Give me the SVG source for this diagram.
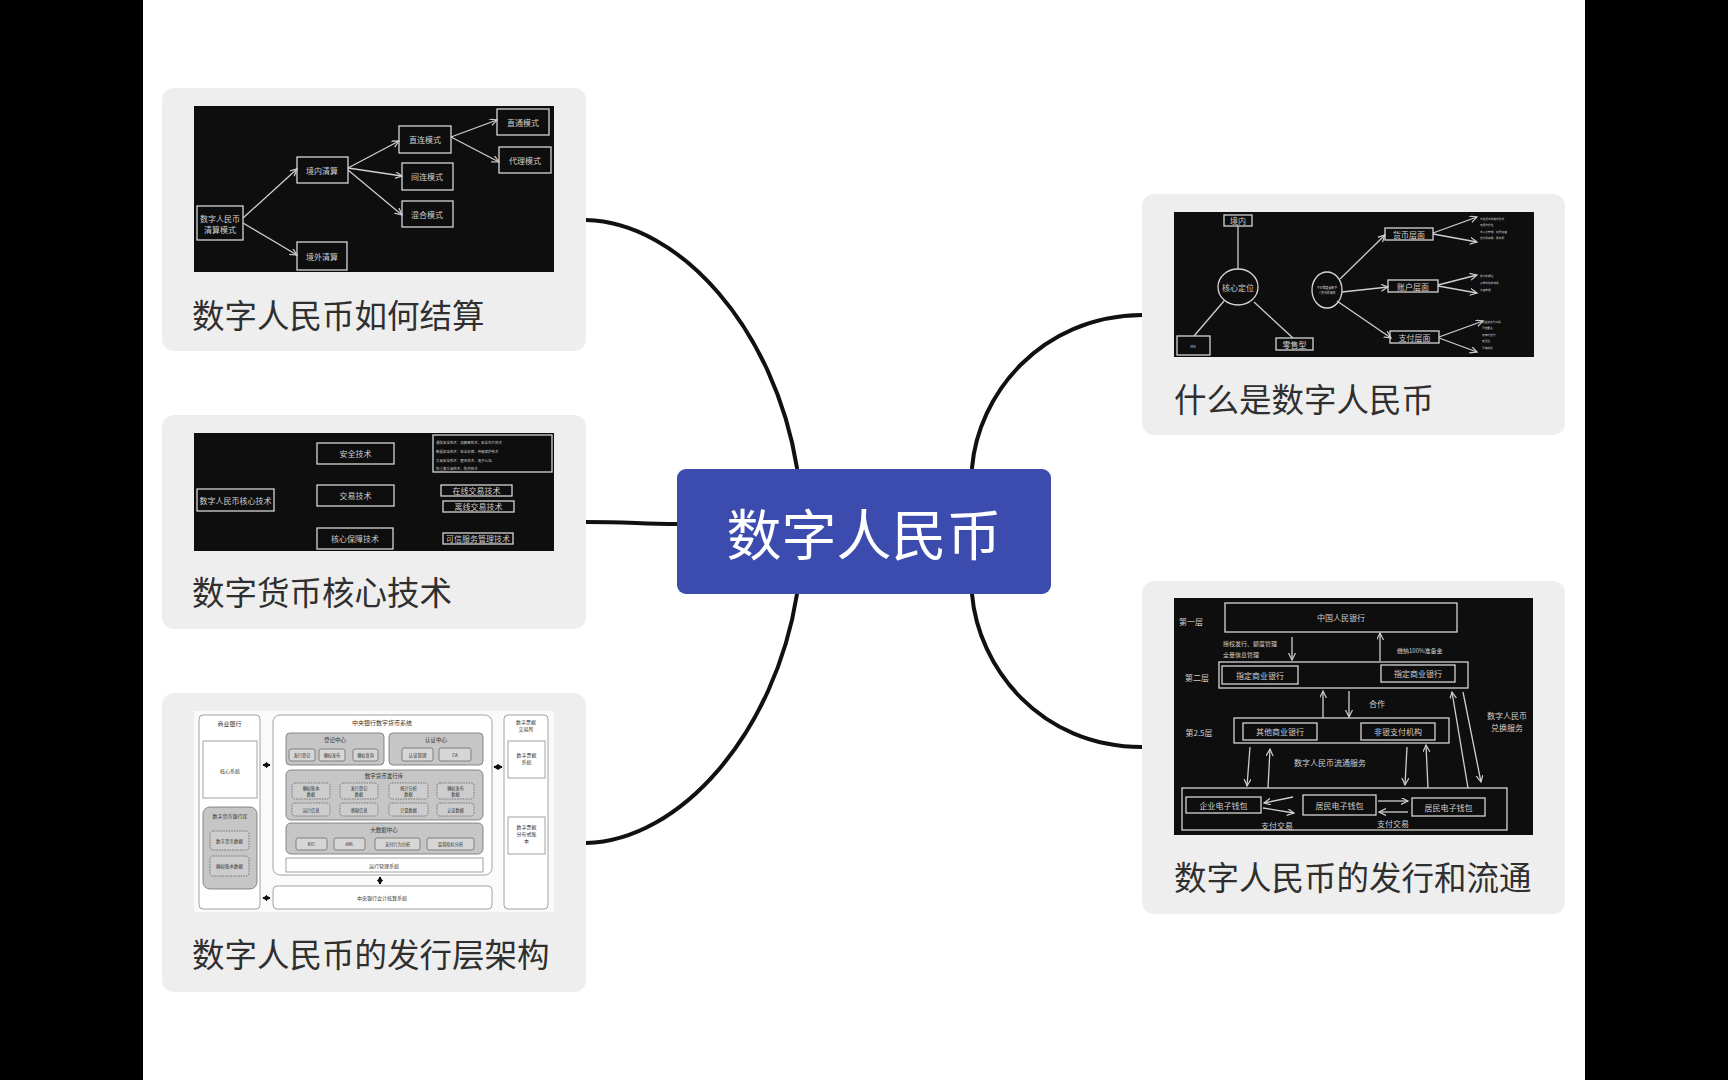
<svg xmlns="http://www.w3.org/2000/svg" width="1728" height="1080" viewBox="0 0 1728 1080">
<defs>
<style>
.f{font-family:"Noto Sans CJK SC","Noto Sans",sans-serif}
.card{fill:#eeeeee}
.lbl{font-family:"Noto Sans CJK SC","Noto Sans",sans-serif;font-size:32.5px;fill:#2f2f2f;dominant-baseline:central}
.conn{fill:none;stroke:#111;stroke-width:4;stroke-linecap:round}
.skbg{fill:#0e0e0e}
.sk{fill:none;stroke:#d6d6d6;stroke-width:1.3}
.skt{font-family:"Noto Sans CJK SC","Noto Sans",sans-serif;font-size:8px;fill:#cfcfcf;text-anchor:middle;dominant-baseline:central}
.skl{font-family:"Noto Sans CJK SC","Noto Sans",sans-serif;font-size:6px;fill:#cfcfcf;dominant-baseline:central}
.ska{fill:none;stroke:#cfcfcf;stroke-width:1.3;marker-end:url(#skArrow)}
.skn{fill:none;stroke:#cfcfcf;stroke-width:1.3}
.wb{fill:#fff;stroke:#8a8a8a;stroke-width:0.8}
.gb{fill:#c6c6c6;stroke:#707070;stroke-width:0.8}
.sb{fill:#d6d6d6;stroke:#606060;stroke-width:0.7}
.db{fill:#cdcdcd;stroke:#5a5a5a;stroke-width:0.7;stroke-dasharray:1.6 1}
.it{font-family:"Noto Sans CJK SC","Noto Sans",sans-serif;font-size:10px;fill:#333;text-anchor:middle;dominant-baseline:central}
.dar{stroke:#111;stroke-width:2;marker-start:url(#dblArrow);marker-end:url(#dblArrow)}
</style>
<marker id="skArrow" markerUnits="userSpaceOnUse" markerWidth="10" markerHeight="10" refX="7" refY="3.5" orient="auto">
<path d="M0,0 L7,3.5 L0,7" fill="none" stroke="#cfcfcf" stroke-width="1.2"/>
</marker>
<marker id="dblArrow" markerUnits="userSpaceOnUse" markerWidth="6" markerHeight="6" refX="4" refY="3" orient="auto-start-reverse">
<path d="M0,0 L4.5,3 L0,6 Z" fill="#111"/>
</marker>
</defs>

<rect x="0" y="0" width="1728" height="1080" fill="#ffffff"/>
<rect x="0" y="0" width="143" height="1080" fill="#000"/>
<rect x="1585" y="0" width="143" height="1080" fill="#000"/>

<g id="connectors">
<path class="conn" d="M586,220 C680,222 775,330 797,468"/>
<path class="conn" d="M586,522 C630,522 640,524 677,524"/>
<path class="conn" d="M586,843 C680,841 775,733 797,594"/>
<path class="conn" d="M972,468 C978,395 1040,316 1142,315"/>
<path class="conn" d="M972,594 C978,667 1040,747 1142,747"/>
</g>

<g id="center">
<rect x="677" y="469" width="374" height="125" rx="9" fill="#3c4bae"/>
<text x="864" y="531" class="f" font-size="55" fill="#fff" text-anchor="middle" dominant-baseline="central">数字人民币</text>
</g>

<g id="node-settlement">
<rect class="card" x="162" y="88" width="424" height="263" rx="12"/>
<rect class="skbg" x="194" y="106" width="360" height="166"/>
<rect class="sk" x="197" y="206" width="46" height="34"/>
<text class="skt" x="220" y="218">数字人民币</text>
<text class="skt" x="220" y="229">清算模式</text>
<rect class="sk" x="297" y="157" width="51" height="26"/>
<text class="skt" x="322" y="170">境内清算</text>
<rect class="sk" x="297" y="242" width="50" height="28"/>
<text class="skt" x="322" y="256">境外清算</text>
<rect class="sk" x="399" y="126" width="52" height="27"/>
<text class="skt" x="425" y="139.5">直连模式</text>
<rect class="sk" x="402" y="163" width="51" height="27"/>
<text class="skt" x="427" y="176.5">间连模式</text>
<rect class="sk" x="402" y="201" width="51" height="26"/>
<text class="skt" x="427" y="214">混合模式</text>
<rect class="sk" x="497" y="109" width="52" height="26"/>
<text class="skt" x="523" y="122">直通模式</text>
<rect class="sk" x="499" y="147" width="52" height="26"/>
<text class="skt" x="525" y="160">代理模式</text>
<path class="ska" d="M243,218 L297,169"/>
<path class="ska" d="M243,223 L297,255"/>
<path class="ska" d="M348,168 L399,141"/>
<path class="ska" d="M348,168 L402,176"/>
<path class="ska" d="M348,170 L402,215"/>
<path class="ska" d="M451,137 L497,120"/>
<path class="ska" d="M451,137 L499,162"/>
<text class="lbl" x="192" y="313">数字人民币如何结算</text>
</g>

<g id="node-tech">
<rect class="card" x="162" y="415" width="424" height="214" rx="12"/>
<rect class="skbg" x="194" y="433" width="360" height="118"/>
<rect class="sk" x="197" y="489" width="77" height="22"/>
<text class="skt" x="235.5" y="500" font-size="6">数字人民币核心技术</text>
<rect class="sk" x="317" y="443" width="77" height="21"/>
<text class="skt" x="355.5" y="453.5" font-size="6">安全技术</text>
<rect class="sk" x="317" y="485" width="77" height="21"/>
<text class="skt" x="355.5" y="495.5" font-size="6">交易技术</text>
<rect class="sk" x="317" y="528" width="76" height="21"/>
<text class="skt" x="355" y="538.5" font-size="6">核心保障技术</text>
<rect class="sk" x="433" y="435" width="119" height="37"/>
<text class="skl" transform="translate(436,442) scale(0.58)" font-size="10">通信安全技术：加解密技术、安全芯片技术</text>
<text class="skl" transform="translate(436,451) scale(0.58)" font-size="10">数据安全技术：安全存储、传输保护技术</text>
<text class="skl" transform="translate(436,460) scale(0.58)" font-size="10">交易安全技术：匿名技术、电子认证、</text>
<text class="skl" transform="translate(436,468) scale(0.58)" font-size="10">防重复交易技术、防伪技术</text>
<rect class="sk" x="441" y="485" width="71" height="11"/>
<text class="skt" x="476.5" y="490.5" font-size="6">在线交易技术</text>
<rect class="sk" x="443" y="501" width="71" height="11"/>
<text class="skt" x="478.5" y="506.5" font-size="6">离线交易技术</text>
<rect class="sk" x="443" y="533" width="70" height="11"/>
<text class="skt" x="478" y="538.5" font-size="6">可信服务管理技术</text>
<text class="lbl" x="192" y="590">数字货币核心技术</text>
</g>

<g id="node-architecture">
<rect class="card" x="162" y="693" width="424" height="299" rx="12"/>
<rect x="194" y="711" width="360" height="201" fill="#fafafa"/>
<rect class="wb" x="199" y="715" width="61" height="194" rx="4"/>
<text class="it" transform="translate(229.5,723) scale(0.6)">商业银行</text>
<rect class="wb" x="203" y="741" width="54" height="57"/>
<text class="it" transform="translate(230,770) scale(0.5)">核心系统</text>
<rect class="gb" x="203" y="807" width="54" height="82" rx="7"/>
<text class="it" transform="translate(230,815) scale(0.5)">数字货币银行库</text>
<rect class="db" x="210" y="831" width="39" height="19" rx="3"/>
<text class="it" transform="translate(229.5,840.5) scale(0.45)">数字货币数据</text>
<rect class="db" x="210" y="856" width="39" height="20" rx="3"/>
<text class="it" transform="translate(229.5,866) scale(0.45)">确权账本数据</text>

<rect class="wb" x="273" y="715" width="219" height="160" rx="7"/>
<text class="it" transform="translate(382,722) scale(0.6)">中央银行数字货币系统</text>
<rect class="gb" x="286" y="733" width="98" height="32" rx="4"/>
<text class="it" transform="translate(335,740) scale(0.55)">登记中心</text>
<rect class="sb" x="289" y="749" width="26" height="12" rx="2"/>
<text class="it" transform="translate(302,755) scale(0.42)">发行登记</text>
<rect class="sb" x="319" y="749" width="26" height="12" rx="2"/>
<text class="it" transform="translate(332,755) scale(0.42)">确权发布</text>
<rect class="sb" x="353" y="749" width="25" height="12" rx="2"/>
<text class="it" transform="translate(365.5,755) scale(0.42)">确权查询</text>
<rect class="gb" x="389" y="733" width="94" height="32" rx="4"/>
<text class="it" transform="translate(436,740) scale(0.55)">认证中心</text>
<rect class="sb" x="402" y="748" width="31" height="13" rx="2"/>
<text class="it" transform="translate(417.5,754.5) scale(0.45)">认证管理</text>
<rect class="sb" x="439" y="748" width="32" height="13" rx="2"/>
<text class="it" transform="translate(455,754.5) scale(0.45)">CA</text>

<rect class="gb" x="286" y="770" width="197" height="50" rx="5"/>
<text class="it" transform="translate(384,776) scale(0.55)">数字货币发行库</text>
<rect class="db" x="292" y="783" width="38" height="16" rx="3"/>
<text class="it" transform="translate(311,788) scale(0.42)">确权账本</text>
<text class="it" transform="translate(311,794) scale(0.42)">数据</text>
<rect class="db" x="340" y="783" width="38" height="16" rx="3"/>
<text class="it" transform="translate(359,788) scale(0.42)">发行登记</text>
<text class="it" transform="translate(359,794) scale(0.42)">数据</text>
<rect class="db" x="389" y="783" width="39" height="16" rx="3"/>
<text class="it" transform="translate(408.5,788) scale(0.42)">统计分析</text>
<text class="it" transform="translate(408.5,794) scale(0.42)">数据</text>
<rect class="db" x="437" y="783" width="37" height="16" rx="3"/>
<text class="it" transform="translate(455.5,788) scale(0.42)">确权发布</text>
<text class="it" transform="translate(455.5,794) scale(0.42)">数据</text>
<rect class="db" x="292" y="803" width="38" height="13" rx="3"/>
<text class="it" transform="translate(311,809.5) scale(0.42)">运行信息</text>
<rect class="db" x="340" y="803" width="38" height="13" rx="3"/>
<text class="it" transform="translate(359,809.5) scale(0.42)">基础信息</text>
<rect class="db" x="389" y="803" width="39" height="13" rx="3"/>
<text class="it" transform="translate(408.5,809.5) scale(0.42)">计量数据</text>
<rect class="db" x="437" y="803" width="37" height="13" rx="3"/>
<text class="it" transform="translate(455.5,809.5) scale(0.42)">认证数据</text>

<rect class="gb" x="286" y="823" width="197" height="31" rx="5"/>
<text class="it" transform="translate(384,830) scale(0.55)">大数据中心</text>
<rect class="sb" x="296" y="838" width="31" height="12" rx="2"/>
<text class="it" transform="translate(311.5,844) scale(0.42)">KYC</text>
<rect class="sb" x="334" y="838" width="31" height="12" rx="2"/>
<text class="it" transform="translate(349.5,844) scale(0.42)">AML</text>
<rect class="sb" x="375" y="838" width="45" height="12" rx="2"/>
<text class="it" transform="translate(397.5,844) scale(0.42)">支付行为分析</text>
<rect class="sb" x="427" y="838" width="47" height="12" rx="2"/>
<text class="it" transform="translate(450.5,844) scale(0.42)">监管指标分析</text>
<rect class="wb" x="286" y="858" width="197" height="14"/>
<text class="it" transform="translate(384,865) scale(0.5)">运行管理系统</text>

<rect class="wb" x="273" y="886" width="219" height="23" rx="4"/>
<text class="it" transform="translate(382,897.5) scale(0.5)">中央银行会计核算系统</text>

<rect class="wb" x="504" y="715" width="44" height="194" rx="4"/>
<text class="it" transform="translate(526,721) scale(0.5)">数字票据</text>
<text class="it" transform="translate(526,728) scale(0.5)">交易所</text>
<rect class="wb" x="508" y="741" width="37" height="37"/>
<text class="it" transform="translate(526.5,754) scale(0.5)">数字票据</text>
<text class="it" transform="translate(526.5,761) scale(0.5)">系统</text>
<rect class="wb" x="508" y="817" width="37" height="37"/>
<text class="it" transform="translate(526.5,826) scale(0.5)">数字票据</text>
<text class="it" transform="translate(526.5,833) scale(0.5)">分布式账</text>
<text class="it" transform="translate(526.5,840) scale(0.5)">本</text>
<line class="dar" x1="263" y1="765" x2="270" y2="765"/>
<line class="dar" x1="494" y1="767" x2="502" y2="767"/>
<line class="dar" x1="380" y1="877" x2="380" y2="884"/>
<line class="dar" x1="263" y1="898" x2="270" y2="898"/>
<text class="lbl" x="192" y="952">数字人民币的发行层架构</text>
</g>

<g id="node-what">
<rect class="card" x="1142" y="194" width="423" height="241" rx="12"/>
<rect class="skbg" x="1174" y="212" width="360" height="145"/>
<rect class="sk" x="1224" y="215" width="28" height="11"/>
<text class="skt" x="1238" y="220.5" font-size="6.5">境内</text>
<ellipse class="sk" cx="1238" cy="287" rx="20" ry="18"/>
<text class="skt" x="1238" y="287" font-size="7">核心定位</text>
<rect class="sk" x="1177" y="336" width="33" height="19"/>
<text class="skt" transform="translate(1193,345.5) scale(0.5)" font-size="10">M0</text>
<rect class="sk" x="1276" y="338" width="37" height="12"/>
<text class="skt" x="1294.5" y="344" font-size="6.5">零售型</text>
<path class="skn" d="M1238,226 L1238,269"/>
<path class="skn" d="M1224,301 L1194,336"/>
<path class="skn" d="M1254,302 L1293,338"/>
<ellipse class="sk" cx="1327" cy="290" rx="15" ry="18"/>
<text class="skt" transform="translate(1327,287.5) scale(0.36)" font-size="10">不同维度看数字</text>
<text class="skt" transform="translate(1327,292.5) scale(0.36)" font-size="10">人民币的属性</text>
<rect class="sk" x="1385" y="228" width="48" height="12"/>
<text class="skt" x="1409" y="234" font-size="6.5">货币层面</text>
<rect class="sk" x="1388" y="280" width="50" height="12"/>
<text class="skt" x="1413" y="286" font-size="6.5">账户层面</text>
<rect class="sk" x="1390" y="331" width="49" height="12"/>
<text class="skt" x="1414.5" y="337" font-size="6.5">支付层面</text>
<path class="ska" d="M1340,279 L1385,235"/>
<path class="ska" d="M1342,292 L1388,287"/>
<path class="ska" d="M1337,301 L1391,338"/>
<path class="ska" d="M1433,233 L1477,217"/>
<path class="ska" d="M1433,234 L1477,242"/>
<path class="ska" d="M1438,285 L1477,275"/>
<path class="ska" d="M1438,286 L1477,293"/>
<path class="ska" d="M1439,337 L1483,321"/>
<path class="ska" d="M1439,338 L1477,352"/>
<text class="skl" transform="translate(1480,219) scale(0.45)" font-size="10">法定货币的数字形式</text>
<text class="skl" transform="translate(1480,225) scale(0.45)" font-size="10">无限法偿性</text>
<text class="skl" transform="translate(1480,232) scale(0.45)" font-size="10">中心化管理、双层运营</text>
<text class="skl" transform="translate(1480,238) scale(0.45)" font-size="10">支付即结算、服务费</text>
<text class="skl" transform="translate(1480,276) scale(0.45)" font-size="10">账户松耦合</text>
<text class="skl" transform="translate(1480,283) scale(0.45)" font-size="10">多种钱包的选择</text>
<text class="skl" transform="translate(1480,290) scale(0.45)" font-size="10">分级管理</text>
<text class="skl" transform="translate(1482,322) scale(0.45)" font-size="10">现金类支付工具</text>
<text class="skl" transform="translate(1482,328) scale(0.45)" font-size="10">可控匿名</text>
<text class="skl" transform="translate(1482,335) scale(0.45)" font-size="10">双离线支付</text>
<text class="skl" transform="translate(1482,341) scale(0.45)" font-size="10">安全性</text>
<text class="skl" transform="translate(1482,348) scale(0.45)" font-size="10">可编程性</text>
<text class="lbl" x="1174" y="397">什么是数字人民币</text>
</g>

<g id="node-circulation">
<rect class="card" x="1142" y="581" width="423" height="333" rx="12"/>
<rect class="skbg" x="1174" y="598" width="359" height="237"/>
<text class="skt" x="1191" y="621" font-size="7">第一层</text>
<rect class="sk" x="1225" y="603" width="232" height="29"/>
<text class="skt" x="1341" y="617.5" font-size="10.5">中国人民银行</text>
<text class="skl" x="1223" y="643" font-size="7">授权发行、额度管理</text>
<text class="skl" x="1223" y="654" font-size="7">全量信息管理</text>
<path class="ska" d="M1292,637 L1292,660"/>
<path class="ska" d="M1380,661 L1380,633"/>
<text class="skl" x="1397" y="650" font-size="7">缴纳100%准备金</text>
<text class="skt" x="1197" y="677" font-size="7">第二层</text>
<rect class="sk" x="1219" y="662" width="249" height="26"/>
<rect class="sk" x="1222" y="666" width="76" height="18"/>
<text class="skt" x="1260" y="675" font-size="7.5">指定商业银行</text>
<rect class="sk" x="1381" y="665" width="74" height="17"/>
<text class="skt" x="1418" y="673.5" font-size="7.5">指定商业银行</text>
<path class="ska" d="M1323,718 L1323,691"/>
<path class="ska" d="M1349,691 L1349,717"/>
<text class="skt" x="1377" y="703" font-size="7">合作</text>
<text class="skt" x="1199" y="732" font-size="7">第2.5层</text>
<rect class="sk" x="1234" y="718" width="215" height="25"/>
<rect class="sk" x="1243" y="723" width="74" height="17"/>
<text class="skt" x="1280" y="731.5" font-size="7.5">其他商业银行</text>
<rect class="sk" x="1361" y="723" width="74" height="17"/>
<text class="skt" x="1398" y="731.5" font-size="7.5">非银支付机构</text>
<text class="skt" x="1507" y="715" font-size="7">数字人民币</text>
<text class="skt" x="1507" y="727" font-size="7">兑换服务</text>
<path class="ska" d="M1468,788 L1452,692"/>
<path class="ska" d="M1463,692 L1481,782"/>
<path class="ska" d="M1250,747 L1247,786"/>
<path class="ska" d="M1268,788 L1270,749"/>
<text class="skt" x="1330" y="762" font-size="7">数字人民币流通服务</text>
<path class="ska" d="M1407,747 L1405,785"/>
<path class="ska" d="M1428,788 L1426,745"/>
<rect class="sk" x="1182" y="788" width="325" height="42"/>
<rect class="sk" x="1186" y="797" width="75" height="16"/>
<text class="skt" x="1223.5" y="805" font-size="7.5">企业电子钱包</text>
<rect class="sk" x="1303" y="795" width="73" height="20"/>
<text class="skt" x="1339.5" y="805" font-size="7.5">居民电子钱包</text>
<rect class="sk" x="1412" y="798" width="73" height="18"/>
<text class="skt" x="1448.5" y="807" font-size="7.5">居民电子钱包</text>
<path class="ska" d="M1293,797 L1264,803"/>
<path class="ska" d="M1263,808 L1294,813"/>
<text class="skt" x="1277" y="825" font-size="7">支付交易</text>
<path class="ska" d="M1378,801 L1408,801"/>
<path class="ska" d="M1408,812 L1379,812"/>
<text class="skt" x="1393" y="823" font-size="7">支付交易</text>
<text class="lbl" x="1174" y="875">数字人民币的发行和流通</text>
</g>
</svg>
